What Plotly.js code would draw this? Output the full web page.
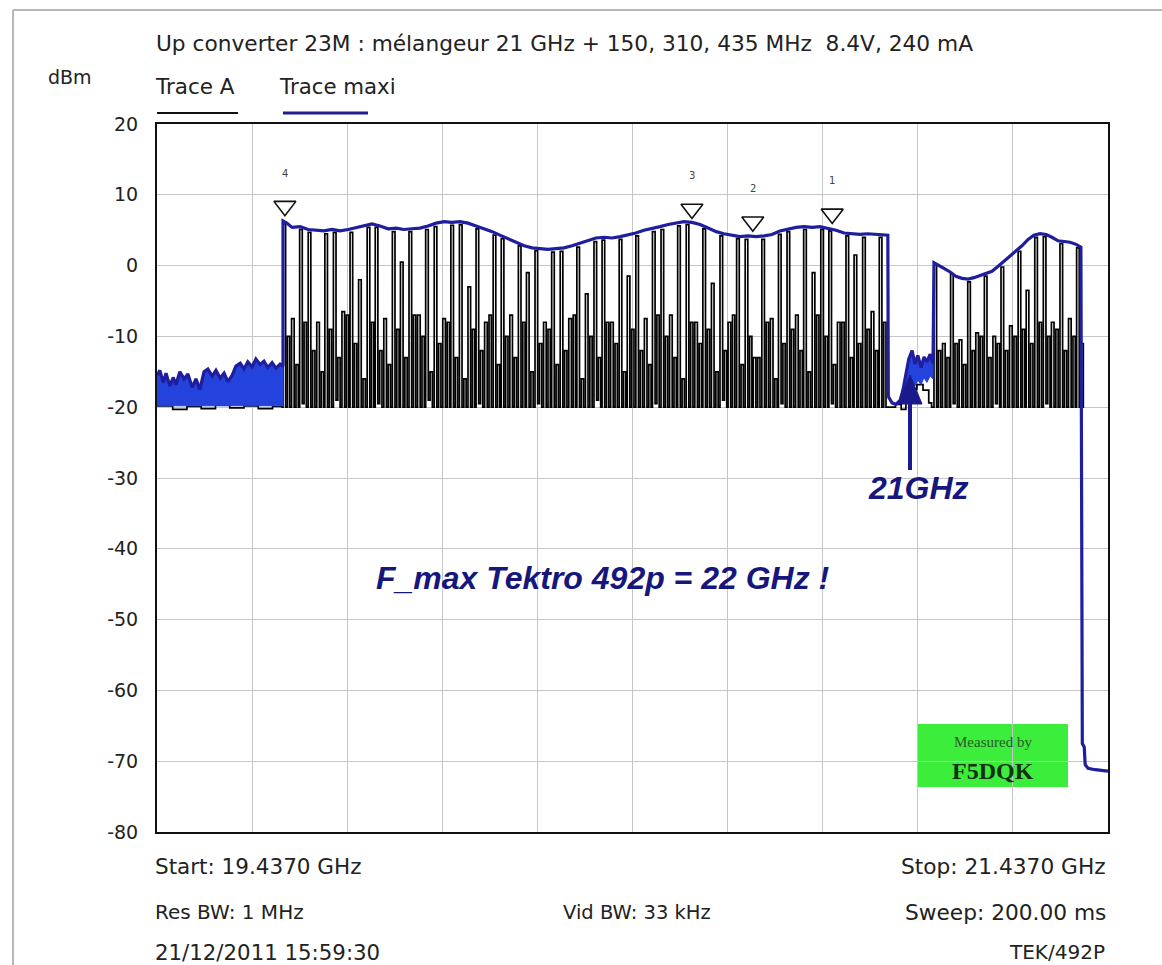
<!DOCTYPE html>
<html><head><meta charset="utf-8">
<script src="https://cdn.plot.ly/plotly-3.0.1.min.js"></script>
<style>html,body{margin:0;padding:0;background:#fff}#chart{width:1162px;height:965px}</style>
</head><body><div id="chart"></div>
<script>
// ---------------- data ----------------
const startGHz = 19.437, stopGHz = 21.437;
const yTickVals = [20,10,0,-10,-20,-30,-40,-50,-60,-70,-80];
const yTickText = ['20','10','0','-10','-20','-30','-40','-50','-60','-70','-80'];

// Trace maxi : noisy floor before the comb (upper edge)
const leftNoiseFreq = [19.437,19.443,19.450,19.456,19.464,19.471,19.477,19.485,19.494,19.502,19.511,19.519,19.527,19.536,19.544,19.553,19.561,19.570,19.578,19.586,19.595,19.603,19.612,19.620,19.628,19.637,19.645,19.654,19.662,19.670,19.679,19.687,19.696,19.702];
const leftNoiseDbm  = [-15.5,-14.8,-16.5,-15.2,-17.0,-15.8,-16.8,-15.0,-16.0,-15.3,-17.2,-16.0,-17.5,-15.0,-14.6,-15.6,-14.8,-15.9,-15.2,-16.4,-15.5,-14.2,-13.8,-14.6,-13.6,-14.3,-13.2,-14.0,-13.5,-14.4,-13.7,-14.5,-13.9,-14.2];
const noiseFloorDbm = -19.8;

// Trace maxi : envelope of first band
const maxiBand1Freq = [19.702,19.710,19.721,19.738,19.755,19.771,19.788,19.805,19.822,19.839,19.856,19.872,19.889,19.906,19.923,19.940,19.956,19.973,19.990,20.007,20.024,20.041,20.057,20.074,20.091,20.108,20.125,20.142,20.158,20.175,20.192,20.209,20.226,20.243,20.259,20.276,20.293,20.310,20.327,20.343,20.360,20.377,20.394,20.411,20.428,20.444,20.461,20.478,20.495,20.512,20.529,20.545,20.562,20.579,20.596,20.613,20.629,20.646,20.663,20.680,20.697,20.714,20.730,20.747,20.764,20.781,20.798,20.815,20.831,20.848,20.865,20.882,20.899,20.915,20.932,20.949,20.966,20.974,20.975,20.983,20.991,21.000];
const maxiBand1Dbm  = [6.3,6.0,5.4,5.5,5.1,5.0,4.9,5.1,4.9,5.1,5.4,5.7,5.9,5.6,5.2,5.3,5.1,5.2,5.3,5.6,6.0,6.2,6.1,6.2,6.0,5.6,5.2,4.8,4.3,3.8,3.3,2.8,2.5,2.4,2.3,2.4,2.5,2.8,3.2,3.6,3.9,4.0,3.9,4.1,4.3,4.6,5.0,5.2,5.5,5.8,6.0,6.2,6.1,5.8,5.3,4.8,4.5,4.3,4.1,4.2,4.1,4.2,4.4,4.9,5.2,5.4,5.5,5.4,5.5,5.3,5.0,4.6,4.5,4.4,4.5,4.4,4.4,4.3,-18.5,-19.4,-19.6,-19.0];

// Trace maxi : noise near 21 GHz (upper and lower edges)
const gapNoiseFreq   = [21.006,21.012,21.018,21.025,21.031,21.037,21.044,21.050,21.056,21.063,21.069];
const gapNoiseDbm    = [-17.5,-15.2,-13.2,-12.0,-13.9,-12.7,-14.4,-12.9,-13.6,-12.5,-13.8];
const gapNoiseLowDbm = [-18.8,-18.0,-17.2,-16.5,-17.0,-16.2,-16.8,-15.8,-16.5,-15.6,-16.0];

// Trace maxi : second band and roll-off
const maxiBand2Freq = [21.071,21.080,21.092,21.105,21.117,21.130,21.143,21.155,21.168,21.180,21.193,21.206,21.218,21.231,21.244,21.256,21.269,21.281,21.294,21.307,21.319,21.332,21.345,21.357,21.370,21.380,21.383,21.387,21.389,21.395,21.410,21.437];
const maxiBand2Dbm  = [0.4,0.0,-0.4,-0.9,-1.5,-1.8,-1.9,-1.7,-1.4,-1.1,-0.8,-0.1,0.6,1.3,2.0,2.8,3.7,4.3,4.5,4.4,4.0,3.5,3.4,3.3,3.0,2.6,-67.5,-68.0,-70.5,-71.0,-71.2,-71.4];

// Trace A : floor before comb
const baseLeftFreq = [19.437,19.470,19.500,19.530,19.560,19.590,19.620,19.650,19.680,19.700];
const baseLeftDbm  = [-19.8,-20.3,-19.9,-20.2,-19.7,-20.1,-19.8,-20.2,-19.9,-20.0];

// Trace A : comb lines, first band (main line peak, floor, and the short line that follows it)
const combMainFreq = [19.702,19.720,19.737,19.755,19.773,19.790,19.808,19.826,19.843,19.861,19.879,19.896,19.914,19.932,19.949,19.967,19.985,20.002,20.020,20.038,20.055,20.073,20.091,20.108,20.126,20.144,20.161,20.179,20.197,20.214,20.232,20.250,20.267,20.285,20.303,20.320,20.338,20.356,20.373,20.391,20.409,20.426,20.444,20.462,20.479,20.497,20.515,20.532,20.550,20.568,20.585,20.603,20.621,20.638,20.656,20.674,20.691,20.709,20.727,20.744,20.762,20.780,20.797,20.815,20.833,20.850,20.868,20.886,20.903,20.921,20.939,20.956];
const combMainPeak = [5.9,-7.5,5.1,4.7,-8,4.5,4.7,-6.5,4.7,-2,5.4,5.4,-7.5,4.8,0.5,4.8,-7,5.1,5.5,-7.5,5.7,5.8,-3,5.2,-8,4.3,3.8,-7,2.8,-1,2.1,-8,1.9,2.0,-7.5,2.6,-4,3.4,3.6,-8,3.7,-1.5,4.2,-7.5,4.8,5.1,-7,5.6,5.8,-8,5.2,-2.5,4.2,-8,3.8,3.7,-13,3.7,-7.5,4.4,4.8,-7,5.1,-1,5.1,4.9,-8,4.2,1.5,4.0,-6.5,4.0];
const combMainLow  = [-20,-20,-19.5,-20,-20,-20,-19,-20,-20,-20,-20,-19.5,-20,-20,-20,-20,-20,-19,-20,-20,-20,-20,-20,-19.5,-20,-20,-20,-20,-20,-20,-19.5,-20,-20,-20,-20,-20,-20,-19,-20,-20,-20,-20,-20,-20,-19.5,-20,-20,-20,-20,-20,-20,-20,-19,-20,-20,-20,-20,-20,-20,-19.5,-20,-20,-20,-20,-20,-19.5,-20,-20,-20,-20,-20,-20];
const combMainSub  = [-10,-14,-8,-12,-15,-9,-13,-7,-11,-16,-8,-12,-14,-9,-13,-7,-10,-15,-11,-8,-13,-16,-9,-12,-7,-14,-10,-13,-8,-15,-11,-9,-14,-12,-7,-16,-10,-13,-8,-11,-15,-9,-12,-14,-7,-10,-13,-16,-8,-11,-9,-15,-12,-7,-14,-10,-13,-8,-16,-11,-9,-12,-15,-7,-10,-14,-8,-13,-11,-9,-12,-8];

// Trace A : floor around 21 GHz
const baseGapFreq = [20.975,20.990,21.002,21.012,21.022,21.035,21.048,21.060,21.066];
const baseGapDbm  = [-20.0,-19.6,-20.3,-19.2,-17.5,-16.8,-17.6,-19.4,-20.0];

// Trace A : comb lines, second band
const combRightFreq = [21.071,21.089,21.106,21.124,21.142,21.159,21.177,21.195,21.212,21.230,21.248,21.265,21.283,21.301,21.318,21.336,21.354,21.371];
const combRightPeak = [0.1,-11,-1.2,-10.5,-2.3,-9.5,-1.5,-10,-0.2,-8.5,2.0,-3.5,4.0,4.1,-8,3.1,-7.5,2.5];
const combRightLow  = [-20,-20,-19.5,-20,-20,-20,-20,-19.5,-20,-20,-20,-20,-20,-19.5,-20,-20,-20,-20];
const combRightSub  = [-12,-13,-11,-14,-12,-10,-13,-11,-12,-10,-9,-11,-8,-10,-9,-12,-10,-11];

// Markers
const markerFreq  = [19.706, 20.562, 20.690, 20.857];
const markerDbm   = [8.4, 8.0, 6.2, 7.3];
const markerLabel = ['4', '3', '2', '1'];

// Texts
const titleText = 'Up converter 23M : mélangeur 21 GHz + 150, 310, 435 MHz  8.4V, 240 mA';
const unitText = 'dBm';
const legendA = 'Trace A', legendMaxi = 'Trace maxi';
const infoStart = 'Start: 19.4370 GHz', infoStop = 'Stop: 21.4370 GHz';
const infoRes = 'Res BW: 1 MHz', infoVid = 'Vid BW: 33 kHz', infoSweep = 'Sweep: 200.00 ms';
const infoDate = '21/12/2011 15:59:30', infoInstr = 'TEK/492P';
const noteFmax = 'F_max Tektro 492p = 22 GHz !';
const note21 = '21GHz';
const stamp1 = 'Measured by', stamp2 = 'F5DQK';

// ---------------- build ----------------
const lineW = 0.0055, subOff = 0.0093, subW = 0.0048;  // comb line geometry (GHz)
const ax = [], ay = [];
function addComb(freq, peak, low, sub) {
  freq.forEach((f,i)=>{
    ax.push(f);          ay.push(peak[i]);
    ax.push(f+lineW);    ay.push(low[i]);
    ax.push(f+subOff);   ay.push(sub[i]);
    ax.push(f+subOff+subW); ay.push(-20);
  });
}
baseLeftFreq.forEach((f,i)=>{ax.push(f); ay.push(baseLeftDbm[i]);});
addComb(combMainFreq, combMainPeak, combMainLow, combMainSub);
baseGapFreq.forEach((f,i)=>{ax.push(f); ay.push(baseGapDbm[i]);});
addComb(combRightFreq, combRightPeak, combRightLow, combRightSub);
ax.push(combRightFreq[combRightFreq.length-1]+0.016); ay.push(-20);

const maxiX = [].concat(leftNoiseFreq, maxiBand1Freq, gapNoiseFreq, maxiBand2Freq);
const maxiY = [].concat(leftNoiseDbm, maxiBand1Dbm, gapNoiseDbm, maxiBand2Dbm);

const navy = '#1e1e9e';
const fillBlue = '#2442dc';

const traces = [
  {x: ax, y: ay, mode:'lines', line:{color:'#000', width:1.7, shape:'hv'}, hoverinfo:'skip'},
  {x: leftNoiseFreq.concat([leftNoiseFreq[leftNoiseFreq.length-1], leftNoiseFreq[0]]),
   y: leftNoiseDbm.concat([noiseFloorDbm, noiseFloorDbm]),
   mode:'lines', fill:'toself', fillcolor:fillBlue, line:{color:fillBlue, width:1}, hoverinfo:'skip'},
  {x: gapNoiseFreq.concat(gapNoiseFreq.slice().reverse()),
   y: gapNoiseDbm.concat(gapNoiseLowDbm.slice().reverse()),
   mode:'lines', fill:'toself', fillcolor:fillBlue, line:{color:fillBlue, width:1}, hoverinfo:'skip'},
  {x: maxiX, y: maxiY, mode:'lines', line:{color:navy, width:3.2}, hoverinfo:'skip'},
  {x: markerFreq, y: markerDbm, mode:'markers',
   marker:{symbol:'triangle-down-open', size:19, color:'#111', line:{width:1.6, color:'#111'}}, hoverinfo:'skip'}
];

// pixel -> paper helpers
const L = 157, R = 1108, T = 124, B = 832;
const px = v => (v - L) / (R - L);
const py = v => (B - v) / (B - T);
const FONT = 'DejaVu Sans';
function txt(s, x, y, anchor, size, extra) {
  return Object.assign({text:s, xref:'paper', yref:'paper', x:px(x), y:py(y), xanchor:anchor, yanchor:'middle',
    showarrow:false, borderpad:0, font:{family:FONT, size:size, color:'#222'}}, extra||{});
}
const annotations = [
  txt(titleText, 155, 43, 'left', 21.7),
  txt(unitText, 47, 77, 'left', 19),
  txt(legendA, 154, 86, 'left', 21.5),
  txt(legendMaxi, 278, 86, 'left', 21.3),
  txt(infoStart, 154, 866, 'left', 21.5),
  txt(infoStop, 1107, 866, 'right', 21.7),
  txt(infoRes, 154, 912, 'left', 20),
  txt(infoVid, 562, 912, 'left', 19.5),
  txt(infoSweep, 1107, 912, 'right', 21.7),
  txt(infoDate, 154, 952, 'left', 21.3),
  txt(infoInstr, 1106, 952, 'right', 20),
  txt(noteFmax, 603, 578, 'center', 32, {font:{family:'Liberation Sans', size:32, color:'#16167c', weight:'bold', style:'italic'}}),
  txt(note21, 918, 488, 'center', 32, {font:{family:'Liberation Sans', size:32, color:'#16167c', weight:'bold', style:'italic'}}),
  txt(stamp1, 993, 742, 'center', 15, {font:{family:'Liberation Serif', size:15, color:'#2b5a2b'}}),
  txt(stamp2, 993, 771, 'center', 24, {font:{family:'Liberation Serif', size:24, color:'#123012', weight:'bold'}})
];
markerFreq.forEach((f,i)=>{
  annotations.push({text:markerLabel[i], x:f, y:markerDbm[i], xref:'x', yref:'y', yshift:33, showarrow:false,
    font:{family:FONT, size:10, color:'#444'}});
});

function pline(x0,y0,x1,y1,color,width){
  return {type:'line', xref:'paper', yref:'paper', x0:px(x0), y0:py(y0), x1:px(x1), y1:py(y1), line:{color:color, width:width}};
}
const shapes = [
  {type:'rect', xref:'paper', yref:'paper', x0:px(918), x1:px(1068), y0:py(787), y1:py(724), fillcolor:'#3ced3c', line:{width:0}, layer:'below'},
  pline(157,113,238,113,'#111',2),
  pline(283,113,368,113,'#20208a',3),
  pline(13,10,1162,10,'#b8b8b8',2),
  pline(13,10,13,965,'#b8b8b8',2),
  pline(910,470,910,398,'#1a1a8c',4),
  {type:'path', xref:'paper', yref:'paper',
   path:'M'+px(910)+','+py(375)+' L'+px(922)+','+py(404)+' L'+px(898)+','+py(404)+' Z',
   fillcolor:'#1a1a8c', line:{color:'#1a1a8c', width:1}}
];

const layout = {
  width:1162, height:965,
  margin:{l:L, r:1162-R, t:T, b:965-B, pad:0},
  paper_bgcolor:'#ffffff', plot_bgcolor:'#ffffff',
  showlegend:false,
  xaxis:{range:[startGHz, stopGHz], tickmode:'linear', tick0:startGHz, dtick:0.2,
    showticklabels:false, ticks:'', showgrid:true, gridcolor:'#c6c6c6', gridwidth:1,
    zeroline:false, showline:true, mirror:true, linecolor:'#111', linewidth:2, fixedrange:true},
  yaxis:{range:[-80,20], tickmode:'array', tickvals:yTickVals, ticktext:yTickText,
    ticks:'outside', ticklen:13, tickcolor:'rgba(0,0,0,0)',
    tickfont:{family:FONT, size:19, color:'#222'},
    showgrid:true, gridcolor:'#c6c6c6', gridwidth:1,
    zeroline:false, showline:true, mirror:true, linecolor:'#111', linewidth:2, fixedrange:true},
  annotations: annotations,
  shapes: shapes
};

Plotly.newPlot('chart', traces, layout, {staticPlot:true, displayModeBar:false});
</script>
</body></html>
